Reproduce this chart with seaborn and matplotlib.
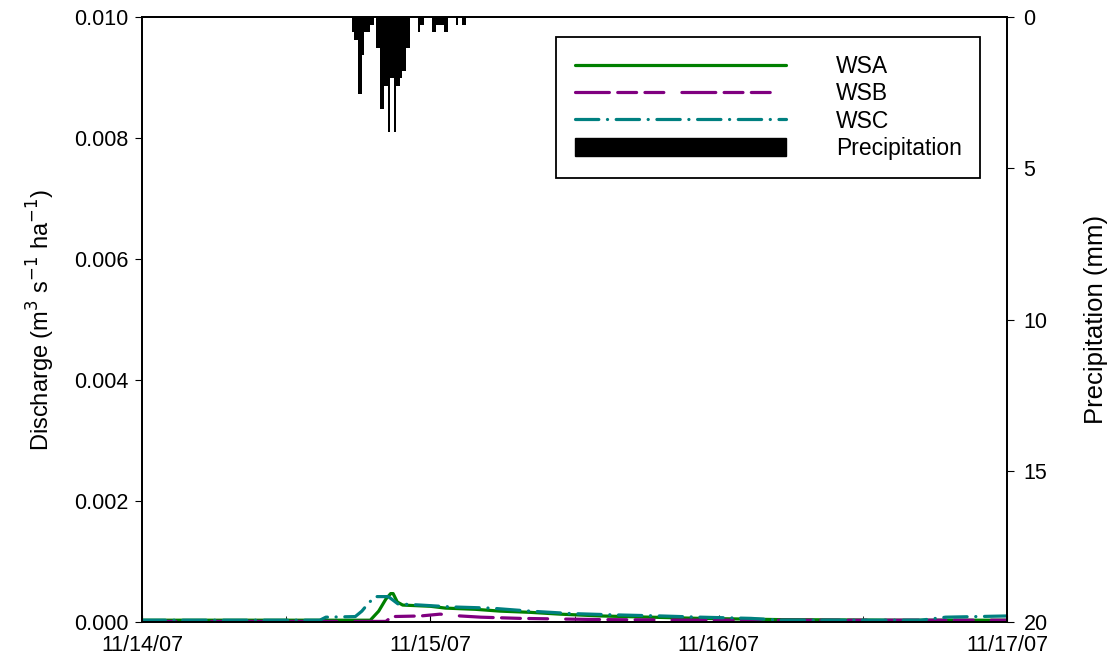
import numpy as np
import pandas as pd
import matplotlib
matplotlib.use("Agg")
import matplotlib.pyplot as plt
import matplotlib.dates as mdates
from matplotlib.patches import Patch
from matplotlib.lines import Line2D
import seaborn as sns

# ---- data -------------------------------------------------------------
start = pd.Timestamp("2007-11-14 00:00")

# discharge (m3 s-1 ha-1), time in hours after 11/14/07 00:00
wsa_hours = [0, 19.0, 19.7, 20.3, 20.7, 20.9, 21.25, 21.7, 24.0, 25.25, 27.75,
             29.8, 32.3, 34.8, 38.2, 42.3, 46.5, 53.0, 63.0, 72.0]
wsa_q = [0.00003, 0.00003, 0.00018, 0.00038, 0.00047, 0.00047, 0.00033, 0.00028,
         0.00026, 0.00023, 0.00021, 0.00018, 0.00016, 0.00013, 0.00010, 0.00008,
         0.00006, 0.00004, 0.00003, 0.00003]

wsb_hours = [0, 20.3, 20.8, 23.2, 24.8, 26.5, 28.2, 31.5, 34.8, 38.2, 46.5, 72.0]
wsb_q = [0.00001, 0.00001, 0.00009, 0.00010, 0.00013, 0.00010, 0.00008, 0.00006,
         0.00005, 0.00004, 0.00003, 0.00003]

wsc_hours = [0, 14.8, 15.3, 17.75, 18.3, 18.8, 19.4, 20.5, 21.3, 23.2, 25.7, 29.0,
             32.3, 35.7, 39.0, 43.2, 46.5, 50.7, 53.2, 64.8, 66.9, 72.0]
wsc_q = [0.00003, 0.00003, 0.00008, 0.00009, 0.00018, 0.00030, 0.00042, 0.00042,
         0.00030, 0.00028, 0.00025, 0.00023, 0.00018, 0.00014, 0.00012, 0.00010,
         0.00008, 0.00006, 0.00003, 0.00003, 0.00008, 0.00010]

# 10-minute precipitation totals (mm) starting 11/14/07 17:30
precip_start = "2007-11-14 17:30"
precip_mm = [0.508, 0.762, 0.762, 2.540, 2.540, 1.270, 0.508, 0.508, 0.508, 0.254,
             0.254, 0.0, 1.016, 1.016, 3.048, 3.048, 2.286, 2.286, 3.810, 2.032,
             2.032, 3.810, 2.286, 2.286, 2.032, 1.778, 1.778, 1.016, 1.016, 0.0,
             0.0, 0.0, 0.0, 0.508, 0.254, 0.254, 0.0, 0.0, 0.0, 0.0,
             0.508, 0.508, 0.254, 0.254, 0.254, 0.254, 0.508, 0.508, 0.0, 0.0,
             0.0, 0.0, 0.254, 0.0, 0.0, 0.254, 0.254]

date_ticks = ["2007-11-14", "2007-11-15", "2007-11-16", "2007-11-17"]

# ---- styling ----------------------------------------------------------
sns.set_style("ticks")
plt.rcParams["font.family"] = ["Liberation Sans", "DejaVu Sans"]
plt.rcParams["lines.scale_dashes"] = False
plt.rcParams["axes.linewidth"] = 1.3
for key in ("text.color", "axes.labelcolor", "xtick.color", "ytick.color",
            "axes.edgecolor"):
    plt.rcParams[key] = "black"

FS = 15.5
GREEN = "#008000"
PURPLE = "#800080"
TEAL = "#008080"
LW = 2.3
# dash patterns in points (round caps add one line width to every dash)
WSB_DASH = (0, (24.4, 6.0, 13.6, 6.0, 13.6, 13.0))
WSC_DASH = (0, (16.8, 6.2, 0.1, 6.2))


def to_frame(hours, q):
    return pd.DataFrame({"time": start + pd.to_timedelta(hours, unit="h"),
                         "q": q})


fig = plt.figure(figsize=(11.15, 6.62), dpi=100)
ax = fig.add_axes([0.1274, 0.0604, 0.7757, 0.9139])

sns.lineplot(data=to_frame(wsa_hours, wsa_q), x="time", y="q", ax=ax,
             color=GREEN, lw=LW, solid_capstyle="round")
sns.lineplot(data=to_frame(wsb_hours, wsb_q), x="time", y="q", ax=ax,
             color=PURPLE, lw=LW, linestyle=WSB_DASH, dash_capstyle="round")
sns.lineplot(data=to_frame(wsc_hours, wsc_q), x="time", y="q", ax=ax,
             color=TEAL, lw=LW, linestyle=WSC_DASH, dash_capstyle="round")

ax.set_xlim(pd.Timestamp(date_ticks[0]), pd.Timestamp(date_ticks[-1]))
ax.set_ylim(0, 0.010)
ax.set_yticks(np.arange(0, 0.0101, 0.002))
ax.yaxis.set_major_formatter(matplotlib.ticker.FormatStrFormatter("%.3f"))
ax.set_xticks([pd.Timestamp(d) for d in date_ticks])
ax.xaxis.set_major_formatter(mdates.DateFormatter("%m/%d/%y"))
ax.xaxis.set_minor_locator(mdates.HourLocator(byhour=[12]))
ax.tick_params(axis="x", direction="in", length=5, labelsize=FS, pad=9)
ax.tick_params(axis="x", which="minor", direction="in", length=4)
ax.tick_params(axis="y", direction="out", length=5, labelsize=FS, pad=5)
ax.set_xlabel("")
ax.set_ylabel("Discharge (m$^3$ s$^{-1}$ ha$^{-1}$)", fontsize=FS + 1.5,
              labelpad=12)
for s in ax.spines.values():
    s.set_visible(True)

# precipitation hanging from the top on a reversed secondary axis
ax2 = ax.twinx()
ptimes = pd.date_range(precip_start, periods=len(precip_mm), freq="10min")
ax2.bar(ptimes, precip_mm, width=10 / 1440, align="edge", color="black",
        linewidth=0)
ax2.set_ylim(20, 0)
ax2.set_yticks([0, 5, 10, 15, 20])
ax2.tick_params(axis="y", direction="out", length=5, labelsize=FS, pad=7)
ax2.set_ylabel("Precipitation (mm)", fontsize=FS + 3, rotation=90, labelpad=26)
ax2.set_xlim(ax.get_xlim())

handles = [
    Line2D([], [], color=GREEN, lw=LW, solid_capstyle="round"),
    Line2D([], [], color=PURPLE, lw=LW, linestyle=WSB_DASH,
           dash_capstyle="round"),
    Line2D([], [], color=TEAL, lw=LW, linestyle=WSC_DASH,
           dash_capstyle="round"),
    Patch(facecolor="black", edgecolor="black"),
]
leg = ax2.legend(handles, ["WSA", "WSB", "WSC", "Precipitation"],
                 loc="upper right", bbox_to_anchor=(0.969, 0.967),
                 fontsize=FS + 1, frameon=True, fancybox=False, framealpha=1,
                 edgecolor="black", handlelength=9.2, handleheight=0.85,
                 handletextpad=2.2, labelspacing=0.18, borderpad=0.8,
                 borderaxespad=0)
leg.get_frame().set_linewidth(1.3)

fig.savefig("out.png", dpi=100)
